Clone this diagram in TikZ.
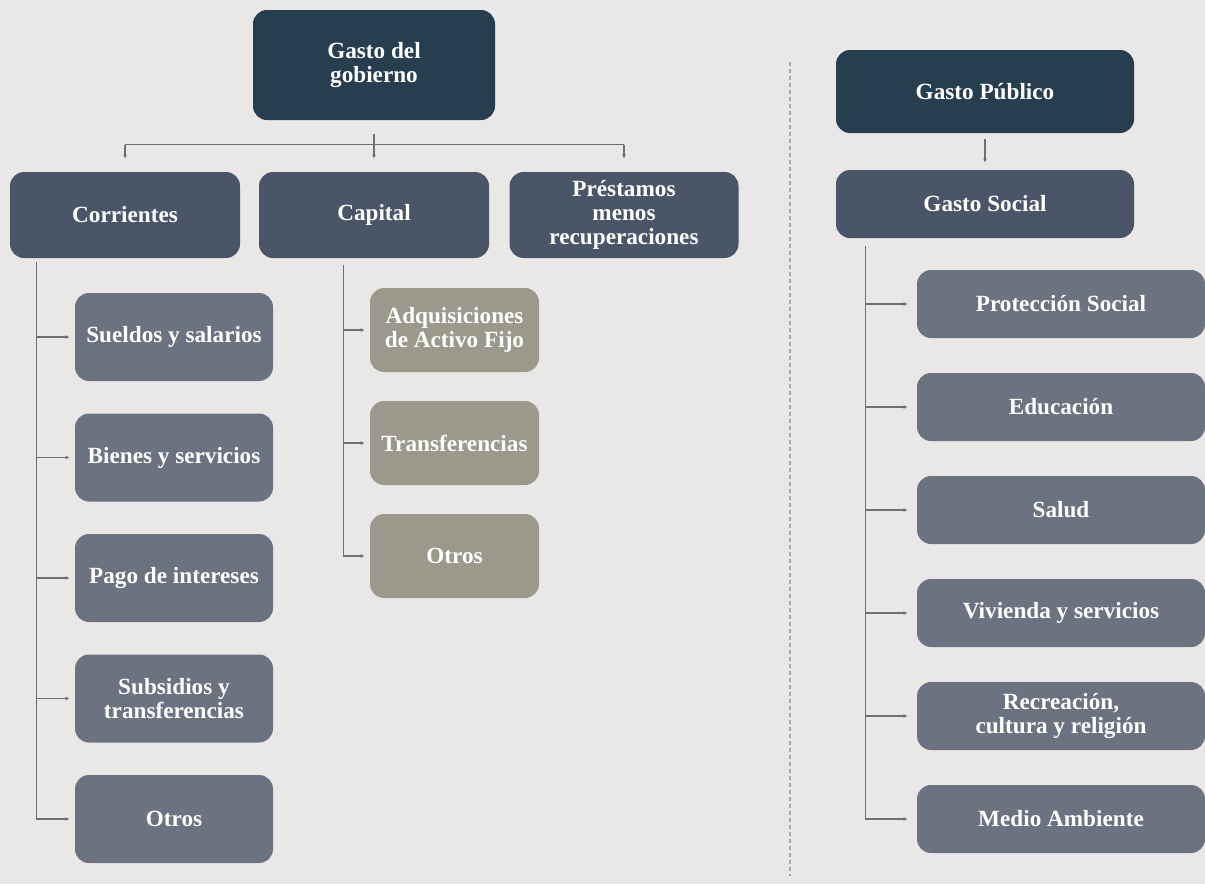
\documentclass[tikz,border=0pt]{standalone}
\usepackage{fontspec}
\setmainfont{Liberation Serif}
\usetikzlibrary{arrows.meta}
\definecolor{bgGray}{HTML}{EAE8E6}
\definecolor{navyDark}{HTML}{273E4F}
\definecolor{slateMid}{HTML}{4A5668}
\definecolor{slateLight}{HTML}{6B7280}
\definecolor{khaki}{HTML}{9B998C}
\definecolor{lineGray}{HTML}{707070}
\definecolor{dashGray}{HTML}{A8A8A8}

\begin{document}
\begin{tikzpicture}[x=0.5pt,y=-0.5pt,box/.style={shape=rectangle,rounded corners=7pt,text=white,align=center,inner sep=0pt,font=\fontsize{11.6}{12.2}\selectfont\bfseries},boxTop/.style={box,fill=navyDark},boxMid/.style={box,fill=slateMid,minimum height=43pt},boxSub/.style={box,fill=slateLight},boxCap/.style={box,fill=khaki,minimum width=84.5pt,minimum height=42pt},wire/.style={draw=lineGray,line width=0.55pt},link/.style={wire,-{Latex[length=2pt,width=2pt]}}]
\def\dyc{120.5};
\def\dyk{113};
\def\dys{103};

\fill[bgGray] (0,0) rectangle (1205,884);
\useasboundingbox (0,0) rectangle (1205,884);

% divider
\draw[dashGray,line width=0.6pt,dash pattern=on 2pt off 1.5pt] (790,62) -- (790,876);

% left tree
\node[boxTop,minimum width=121pt,minimum height=55pt] (GG) at (374,65) {Gasto del\\gobierno};

\node[boxMid,minimum width=115pt] (Cor) at (125,215) {Corrientes};
\node[boxMid,minimum width=115pt] (Cap) at (374,215) {Capital};
\node[boxMid,minimum width=114.5pt] (Pre) at (624,215) {Préstamos\\menos\\recuperaciones};

\draw[link] ([yshift=-7pt]GG.south) -- ([yshift=6.5pt]Cap.north);
\draw[wire] ([yshift=13.5pt]Cor.north) -- ([yshift=13.5pt]Pre.north);
\draw[link] ([yshift=13.5pt]Cor.north) -- ([yshift=6.5pt]Cor.north);
\draw[link] ([yshift=13.5pt]Pre.north) -- ([yshift=6.5pt]Pre.north);

\foreach \txt [count=\i from 0] in {Sueldos y salarios,Bienes y servicios,Pago de intereses,Subsidios y\\transferencias,Otros} {
  \node[boxSub,minimum width=99pt,minimum height=44pt] (C\i) at (174,337+\i*\dyc) {\txt};
  \draw[link] ([xshift=13.5pt,yshift=-2pt]Cor.south west) |- ([xshift=-2.5pt]C\i.west);
}

\foreach \txt [count=\i from 0] in {Adquisiciones\\de Activo Fijo,Transferencias,Otros} {
  \node[boxCap] (K\i) at (454.5,330+\i*\dyk) {\txt};
  \draw[link] ([xshift=42.5pt,yshift=-3.5pt]Cap.south west) |- ([xshift=-2.5pt]K\i.west);
}

% right tree
\node[boxTop,minimum width=149pt,minimum height=41.5pt] (GP) at (985,91.5) {Gasto Público};
\node[boxMid,minimum width=149pt,minimum height=34pt] (GS) at (985,204) {Gasto Social};
\draw[link] ([yshift=-3pt]GP.south) -- ([yshift=3.5pt]GS.north);

\foreach \txt [count=\i from 0] in {Protección Social,Educación,Salud,Vivienda y servicios,{Recreación,\\cultura y religión},Medio Ambiente} {
  \node[boxSub,minimum width=144pt,minimum height=34pt] (S\i) at (1061,304+\i*\dys) {\txt};
  \draw[link] ([xshift=15pt,yshift=-4pt]GS.south west) |- ([xshift=-4.5pt]S\i.west);
}
\end{tikzpicture}
\end{document}
